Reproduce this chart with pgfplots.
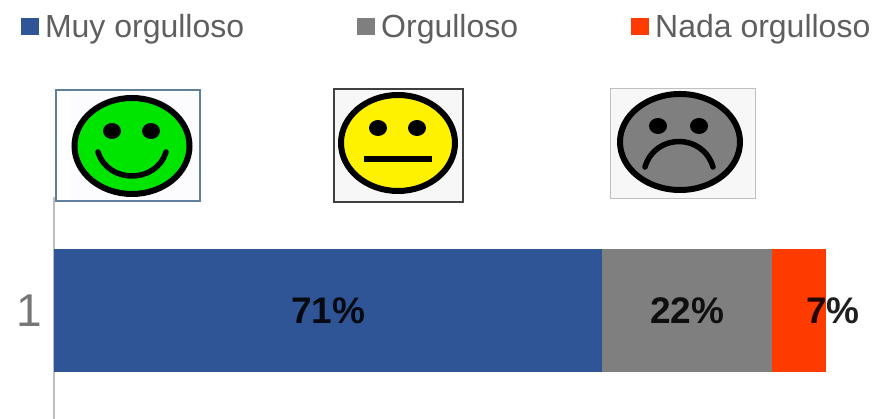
\documentclass[border=0pt]{standalone}
\usepackage{pgfplots}
\pgfplotsset{compat=1.18}
\usepackage{fontspec}
\setmainfont{Liberation Sans}
\definecolor{barblue}{HTML}{2F5597}
\definecolor{bargray}{HTML}{7F7F7F}
\definecolor{barred}{HTML}{FF3B00}
\definecolor{txtgray}{HTML}{5F5F5F}
\definecolor{axgray}{HTML}{BDBDBD}
\definecolor{boxslate}{HTML}{5F7F9F}
\begin{document}
\begin{tikzpicture}[x=1pt,y=1pt]
\path[use as bounding box] (0,0) rectangle (872,419);
\begin{axis}[
  at={(54pt,0pt)},anchor=south west,
  scale only axis,width=818pt,height=222pt,
  xmin=0,xmax=105.96,
  ymin=-0.085,ymax=2.135,
  clip=false,
  xbar stacked,
  bar width=123pt,
  axis x line=none,
  axis y line=left,
  axis line style={draw=axgray,line width=2pt,-},
  ytick={1},
  major tick length=0pt,
  yticklabel style={font=\fontsize{46}{46}\selectfont,text=txtgray!85,inner sep=0pt,xshift=-12pt},
  /pgf/number format/assume math mode=true,
  point meta=explicit symbolic,
  nodes near coords,
  nodes near coords style={font=\fontsize{37}{37}\selectfont\bfseries,text=black,anchor=center,inner sep=0pt,opacity=0.88},
  legend columns=3,
  legend cell align=left,
  legend style={draw=none,fill=none,at={(-33pt,392pt)},anchor=west,inner sep=0pt,outer sep=0pt,
    font=\fontsize{32}{32}\selectfont,text=txtgray,
    nodes={inner sep=0pt},
    /tikz/every odd column/.style={column sep=6pt},
    /tikz/every even column/.style={column sep=113pt}},
  legend image code/.code={\fill[#1] (0pt,-8pt) rectangle (18pt,9pt);},
]
\addplot[fill=barblue,draw=none] coordinates {(71,1) [71\%]};
\addlegendentry{Muy orgulloso}
\addplot[fill=bargray,draw=none] coordinates {(22,1) [22\%]};
\addlegendentry{Orgulloso}
\addplot[fill=barred,draw=none,nodes near coords style={xshift=34pt}] coordinates {(7,1) [7\%]};
\addlegendentry{Nada orgulloso}
\end{axis}
\begin{scope}[shift={(0,419)},x=1pt,y=-1pt]
 % happy
 \fill[white] (56,90) rectangle (200,201);
 \fill[blue!1] (71,92) rectangle (200,200);
 \draw[draw=boxslate,line width=1.4pt] (56,90) rectangle (200,201);
 \draw[fill=green!90!black,draw=black,line width=6pt] (132,146) ellipse [x radius=57.5pt,y radius=48pt];
 \fill (112,131) ellipse [x radius=9pt,y radius=8pt];
 \fill (151,131) ellipse [x radius=9pt,y radius=8pt];
 \draw[line width=5.5pt,line cap=round] (98,152) .. controls (108,184) and (156,184) .. (166,152);
 % neutral
 \fill[white!97!black] (334,89) rectangle (463,202);
 \draw[black!75,line width=1.4pt] (334,89) rectangle (463,202);
 \draw[fill=yellow,draw=black,line width=6pt] (398,143) ellipse [x radius=57pt,y radius=48pt];
 \fill (378,128) ellipse [x radius=9pt,y radius=8pt];
 \fill (417,128) ellipse [x radius=9pt,y radius=8pt];
 \draw[line width=6pt] (364,159) -- (432,159);
 % sad
 \fill[white!97!black] (610,89) rectangle (755,199);
 \draw[black!25,line width=1pt] (610,89) rectangle (755,199);
 \draw[fill=bargray,draw=black,line width=6pt] (680,142) ellipse [x radius=60pt,y radius=48pt];
 \fill (658,126) ellipse [x radius=9pt,y radius=8pt];
 \fill (699,126) ellipse [x radius=9pt,y radius=8pt];
 \draw[line width=5.5pt,line cap=round] (645,167) .. controls (655,133) and (703,133) .. (713,167);
\end{scope}
\end{tikzpicture}
\end{document}
